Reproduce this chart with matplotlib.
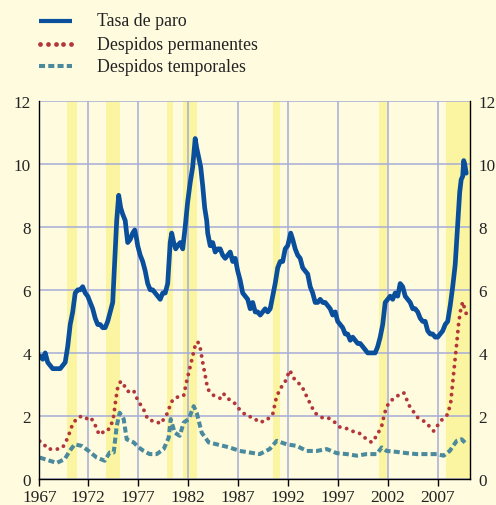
import matplotlib
matplotlib.use("Agg")
import matplotlib.pyplot as plt
from matplotlib.lines import Line2D

# ---------------- data ----------------
tick_years = [1967, 1972, 1977, 1982, 1987, 1992, 1997, 2002, 2007]
y_ticks = [0, 2, 4, 6, 8, 10, 12]

recessions = [(1969.9, 1970.9), (1973.8, 1975.2), (1979.9, 1980.5),
              (1981.5, 1982.9), (1990.56, 1991.2), (2001.1, 2001.9),
              (2007.8, 2010.3)]

paro_years = [1967.0, 1967.25, 1967.5, 1967.75,
              1968.0, 1968.25, 1968.5, 1968.75,
              1969.0, 1969.25, 1969.5, 1969.75,
              1970.0, 1970.25, 1970.5, 1970.75,
              1971.0, 1971.25, 1971.5, 1971.75,
              1972.0, 1972.25, 1972.5, 1972.75,
              1973.0, 1973.25, 1973.5, 1973.75,
              1974.0, 1974.25, 1974.5, 1974.75, 1974.9,
              1975.1, 1975.3, 1975.5, 1975.75,
              1976.0, 1976.25, 1976.5, 1976.7, 1976.9,
              1977.0, 1977.25, 1977.5, 1977.75,
              1978.0, 1978.25, 1978.5, 1978.75,
              1979.0, 1979.25, 1979.5, 1979.75,
              1980.0, 1980.25, 1980.4, 1980.6, 1980.8,
              1981.0, 1981.25, 1981.5, 1981.75,
              1982.0, 1982.25, 1982.5, 1982.75, 1982.9,
              1983.1, 1983.3, 1983.5, 1983.7, 1983.9,
              1984.0, 1984.25, 1984.5, 1984.75,
              1985.0, 1985.25, 1985.5, 1985.75,
              1986.0, 1986.25, 1986.5, 1986.75,
              1987.0, 1987.25, 1987.5, 1987.75,
              1988.0, 1988.25, 1988.5, 1988.75,
              1989.0, 1989.25, 1989.5, 1989.75,
              1990.0, 1990.25, 1990.5, 1990.75,
              1991.0, 1991.25, 1991.5, 1991.75,
              1992.0, 1992.3, 1992.5, 1992.75,
              1993.0, 1993.25, 1993.5, 1993.75,
              1994.0, 1994.25, 1994.5, 1994.75,
              1995.0, 1995.25, 1995.5, 1995.75,
              1996.0, 1996.25, 1996.5, 1996.75,
              1997.0, 1997.25, 1997.5, 1997.75,
              1998.0, 1998.25, 1998.5, 1998.75,
              1999.0, 1999.25, 1999.5, 1999.75,
              2000.0, 2000.25, 2000.5, 2000.75,
              2001.0, 2001.25, 2001.5, 2001.75,
              2002.0, 2002.25, 2002.5, 2002.75,
              2003.0, 2003.25, 2003.5, 2003.75,
              2004.0, 2004.25, 2004.5, 2004.75,
              2005.0, 2005.25, 2005.5, 2005.75,
              2006.0, 2006.25, 2006.5, 2006.75,
              2007.0, 2007.25, 2007.5, 2007.75,
              2008.0, 2008.25, 2008.5, 2008.75,
              2009.0, 2009.2, 2009.35, 2009.5, 2009.6, 2009.7, 2009.85]
paro_vals = [3.8, 3.9, 3.8, 4.0,
             3.7, 3.6, 3.5, 3.5,
             3.5, 3.5, 3.6, 3.7,
             4.2, 4.9, 5.3, 5.9,
             6.0, 6.0, 6.1, 5.9,
             5.8, 5.6, 5.4, 5.1,
             4.9, 4.9, 4.8, 4.8,
             5.0, 5.3, 5.6, 7.2, 8.2,
             9.0, 8.6, 8.4, 8.2,
             7.5, 7.6, 7.8, 7.9, 7.6,
             7.4, 7.1, 6.9, 6.6,
             6.2, 6.0, 6.0, 5.9,
             5.8, 5.7, 5.9, 5.9,
             6.2, 7.5, 7.8, 7.5, 7.3,
             7.4, 7.5, 7.3, 8.0,
             8.8, 9.4, 9.9, 10.8, 10.5,
             10.2, 9.9, 9.3, 8.6, 8.2,
             7.8, 7.4, 7.5, 7.2,
             7.3, 7.3, 7.1, 7.0,
             7.1, 7.2, 6.9, 7.0,
             6.6, 6.3, 5.9, 5.8,
             5.7, 5.4, 5.6, 5.3,
             5.3, 5.2, 5.3, 5.4,
             5.3, 5.4, 5.8, 6.2,
             6.7, 6.9, 6.9, 7.3,
             7.4, 7.8, 7.6, 7.3,
             7.1, 7.0, 6.7, 6.6,
             6.5, 6.1, 5.9, 5.6,
             5.6, 5.7, 5.6, 5.6,
             5.5, 5.4, 5.2, 5.3,
             5.0, 4.9, 4.8, 4.6,
             4.6, 4.4, 4.5, 4.4,
             4.3, 4.3, 4.2, 4.1,
             4.0, 4.0, 4.0, 4.0,
             4.2, 4.5, 4.9, 5.6,
             5.7, 5.8, 5.7, 5.9,
             5.8, 6.2, 6.1, 5.8,
             5.7, 5.6, 5.4, 5.4,
             5.3, 5.1, 5.0, 5.0,
             4.7, 4.6, 4.6, 4.5,
             4.5, 4.6, 4.7, 4.9,
             5.0, 5.5, 6.1, 6.8,
             8.1, 9.1, 9.5, 9.6, 10.1, 10.0, 9.7]

perm_years = [1967.2, 1967.5, 1968.0, 1968.5, 1969.0, 1969.5,
              1970.0, 1970.5, 1971.0, 1971.5, 1972.0, 1972.3, 1972.7,
              1973.0, 1973.3, 1973.7, 1974.0, 1974.3, 1974.6, 1974.8,
              1975.0, 1975.3, 1975.6, 1975.9, 1976.3, 1976.6,
              1977.0, 1977.3, 1977.6, 1978.0, 1978.3, 1978.7,
              1979.0, 1979.3, 1979.6, 1980.0, 1980.3, 1980.6,
              1981.0, 1981.3, 1981.6, 1981.9, 1982.2, 1982.5, 1982.8,
              1983.0, 1983.2, 1983.5, 1983.8, 1984.0, 1984.3, 1984.6,
              1985.0, 1985.3, 1985.6, 1986.0, 1986.3, 1986.7,
              1987.2, 1987.9, 1988.6, 1989.1, 1989.8, 1990.5, 1990.8,
              1991.2, 1991.7, 1992.2, 1992.7, 1993.4, 1994.0, 1994.7,
              1995.4, 1996.0, 1996.7, 1997.2, 1997.7, 1998.4, 1999.1,
              1999.7, 2000.4, 2000.9, 2001.4, 2001.7, 2002.1, 2002.7,
              2003.2, 2003.6, 2004.2, 2005.0, 2005.8, 2006.6, 2007.3,
              2008.0, 2008.3, 2008.5, 2008.7, 2008.9, 2009.1, 2009.3,
              2009.5, 2009.7, 2009.9]
perm_vals = [1.2, 1.15, 0.95, 0.95, 0.95, 1.0,
             1.3, 1.75, 1.95, 2.0, 1.9, 1.95, 1.75,
             1.5, 1.4, 1.55, 1.55, 1.65, 2.0, 2.5,
             2.9, 3.1, 3.0, 2.8, 2.75, 2.8,
             2.5, 2.35, 2.2, 1.9, 1.85, 1.85,
             1.8, 1.75, 1.9, 2.1, 2.4, 2.55,
             2.6, 2.6, 2.65, 3.1, 3.5, 3.9, 4.3,
             4.35, 4.25, 3.7, 3.2, 2.85, 2.75, 2.65,
             2.6, 2.55, 2.7, 2.55, 2.5, 2.4,
             2.2, 2.0, 1.95, 1.8, 1.84, 2.05, 2.5,
             2.85, 3.05, 3.45, 3.15, 2.95, 2.55, 2.1,
             1.95, 1.95, 1.8, 1.65, 1.63, 1.52, 1.47,
             1.31, 1.16, 1.37, 1.68, 2.1, 2.42, 2.58,
             2.68, 2.74, 2.3, 1.95, 1.8, 1.52, 1.84,
             2.05, 2.42, 3.05, 3.68, 4.3, 4.95, 5.37,
             5.62, 5.4, 5.2]

temp_years = [1967.2, 1968.2, 1968.9, 1969.7, 1970.2, 1970.7, 1971.4,
              1972.1, 1972.9, 1973.7, 1974.2, 1974.6, 1974.9, 1975.2,
              1975.6, 1975.9, 1976.6, 1977.1, 1977.6, 1978.2, 1978.9,
              1979.6, 1980.1, 1980.3, 1980.7, 1981.2, 1981.6, 1982.1,
              1982.6, 1982.9, 1983.4, 1984.1, 1984.9, 1986.2, 1987.2,
              1988.2, 1989.2, 1990.2, 1990.9, 1991.9, 1992.9, 1993.9,
              1994.9, 1995.9, 1996.9, 1997.9, 1998.9, 1999.9, 2000.9,
              2001.4, 2001.9, 2002.9, 2003.9, 2004.9, 2005.9, 2006.9,
              2007.6, 2008.2, 2008.9, 2009.4, 2009.9]
temp_vals = [0.68, 0.58, 0.51, 0.63, 0.89, 1.1, 1.05,
             0.89, 0.68, 0.58, 0.84, 0.84, 1.68, 2.1,
             1.9, 1.26, 1.16, 1.0, 0.89, 0.79, 0.79,
             0.95, 1.31, 1.9, 1.47, 1.37, 1.79, 1.9,
             2.31, 2.1, 1.47, 1.16, 1.1, 1.0, 0.89,
             0.84, 0.79, 0.95, 1.21, 1.1, 1.05, 0.89,
             0.89, 0.95, 0.82, 0.79, 0.74, 0.79, 0.79,
             1.0, 0.89, 0.86, 0.82, 0.79, 0.79, 0.79,
             0.74, 0.89, 1.21, 1.26, 1.1]

labels = ["Tasa de paro", "Despidos permanentes", "Despidos temporales"]

# ---------------- style ----------------
BG = "#fefbdf"
BAND = "#fbf4a0"
GRID = "#a6acd6"
C_BLUE = "#0a4f9c"
C_RED = "#b2363a"
C_TEAL = "#4a8a9c"
FONT = ["Liberation Serif", "DejaVu Serif"]

plt.rcParams["font.family"] = FONT
plt.rcParams["lines.scale_dashes"] = True

W, H = 496, 506
fig = plt.figure(figsize=(W / 100, H / 100), dpi=100, facecolor=BG)
ax = fig.add_axes([39.3 / W, 1 - 480 / H, (470.0 - 39.3) / W, (480 - 101.7) / H])
ax.set_facecolor(BG)

x0, x1 = 1967.16, 2010.23
ax.set_xlim(x0, x1)
ax.set_ylim(0, 12)

for a, b in recessions:
    ax.axvspan(a, min(b, x1), color=BAND, lw=0, zorder=0.5)

ax.set_xticks([max(y, x0) for y in tick_years])
ax.set_xticklabels([str(y) for y in tick_years])
ax.set_yticks(y_ticks)
ax.set_yticklabels([str(v) for v in y_ticks])
ax.grid(True, color=GRID, lw=1.1, zorder=1)
ax.set_axisbelow(False)

ax.plot(temp_years, temp_vals, color=C_TEAL, lw=2.9,
        linestyle=(0, (1.5, 0.8)), dash_capstyle="butt", zorder=3)
ax.plot(perm_years, perm_vals, color=C_RED, lw=2.8,
        linestyle=(0, (0.01, 1.8)), dash_capstyle="round", zorder=3)
ax.plot(paro_years, paro_vals, color=C_BLUE, lw=3.4,
        solid_joinstyle="round", solid_capstyle="round", zorder=4)

for s in ["left", "right", "bottom"]:
    ax.spines[s].set_color("black")
    ax.spines[s].set_linewidth(1.0)
    ax.spines[s].set_zorder(5)
ax.spines["top"].set_visible(False)

ax.tick_params(axis="x", direction="out", length=5, width=1, pad=2,
               labelsize=12.5, colors="black")
ax.tick_params(axis="y", length=0, pad=6, labelsize=12.3,
               left=True, right=True, labelleft=True, labelright=True)
for t in ax.get_xticklabels() + ax.get_yticklabels():
    t.set_color("#222222")

# legend (manual glyphs)
leg_y = [22, 45, 67]
for yy, lab, k in zip(leg_y, labels, range(3)):
    yf = 1 - yy / H
    if k == 0:
        fig.add_artist(Line2D([38.5 / W, 72 / W], [yf, yf], transform=fig.transFigure,
                              color=C_BLUE, lw=3.0, solid_capstyle="butt"))
    elif k == 1:
        xs = [(40 + 7.8 * i) / W for i in range(5)]
        fig.add_artist(Line2D(xs, [yf] * 5, transform=fig.transFigure, ls="none",
                              marker="o", ms=3.4, mew=0, color=C_RED))
    else:
        fig.add_artist(Line2D([38.5 / W, 72 / W], [yf, yf], transform=fig.transFigure,
                              color=C_TEAL, lw=2.9, linestyle=(0, (1.5, 0.8)),
                              dash_capstyle="butt"))
    fig.text(97 / W, yf, lab, ha="left", va="center", fontsize=12.8, color="#222222")

fig.savefig("out.png", dpi=100, facecolor=BG)
